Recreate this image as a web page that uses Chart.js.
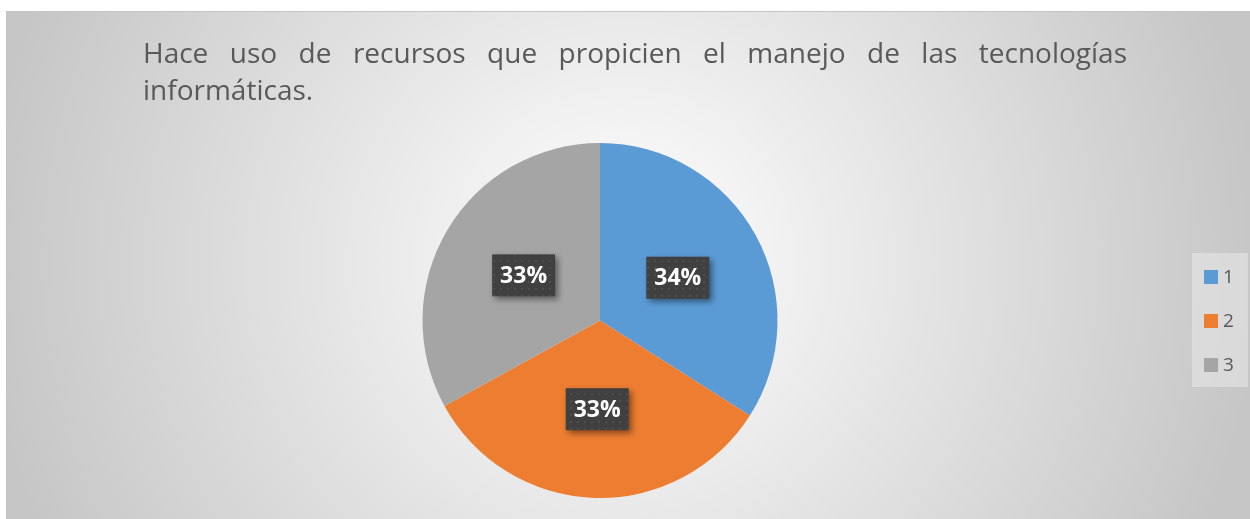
<!DOCTYPE html>
<html lang="es">
<head>
<meta charset="UTF-8">
<title>Hace uso de recursos</title>
<script src="https://cdn.jsdelivr.net/npm/chart.js"></script>
<style>
  body { margin: 0; background: #fff; }
  #frame { position: absolute; left: 6px; top: 11px; width: 1244px; height: 508px;
           border-top: 1px solid #c4c4c4; border-left: 1px solid #c4c4c4; box-sizing: border-box; }
  #chart { position: absolute; left: 0; top: 0; }
  #title { position: absolute; left: 136px; top: 22px; width: 984px;
           font-family: "Open Sans", sans-serif; font-size: 28px; line-height: 37px;
           color: #595959; text-align: justify; }
</style>
</head>
<body>
<div id="frame">
  <canvas id="chart" width="1243" height="507"></canvas>
  <div id="title">Hace uso de recursos que propicien el manejo de las tecnologías informáticas.</div>
</div>
<script>
// data
const categories = ['1', '2', '3'];
const shares = [34, 33, 33];
const colors = ['#5b9bd5', '#ed7d31', '#a5a5a5'];

// radial background like the spreadsheet chart area
const backdrop = {
  id: 'backdrop',
  beforeDraw(chart) {
    const { ctx, width, height } = chart;
    const g = ctx.createRadialGradient(615, 250, 0, 615, 250, 640);
    g.addColorStop(0, '#ffffff');
    g.addColorStop(1, '#c6c6c6');
    ctx.save();
    ctx.fillStyle = g;
    ctx.fillRect(0, 0, width, height);
    ctx.restore();
  }
};

// dotted pattern for label boxes
function dotPattern(ctx) {
  const c = document.createElement('canvas');
  c.width = 7; c.height = 7;
  const p = c.getContext('2d');
  p.fillStyle = '#404040';
  p.fillRect(0, 0, 7, 7);
  p.fillStyle = '#4e4e4e';
  p.fillRect(3, 3, 2, 2);
  return ctx.createPattern(c, 'repeat');
}

const sliceLabels = {
  id: 'sliceLabels',
  afterDatasetsDraw(chart) {
    const { ctx } = chart;
    const meta = chart.getDatasetMeta(0);
    const data = chart.data.datasets[0].data;
    const total = data.reduce((a, b) => a + b, 0);
    const pat = dotPattern(ctx);
    meta.data.forEach((arc, i) => {
      const p = arc.getProps(['x', 'y', 'startAngle', 'endAngle', 'outerRadius'], true);
      const mid = (p.startAngle + p.endAngle) / 2;
      const r = p.outerRadius * 0.5;
      const cx = p.x + Math.cos(mid) * r;
      const cy = p.y + Math.sin(mid) * r;
      const w = 63, h = 42;
      ctx.save();
      ctx.shadowColor = 'rgba(0,0,0,0.45)';
      ctx.shadowBlur = 6;
      ctx.shadowOffsetX = 3;
      ctx.shadowOffsetY = 3;
      ctx.fillStyle = pat;
      ctx.fillRect(cx - w / 2, cy - h / 2, w, h);
      ctx.restore();
      ctx.save();
      ctx.fillStyle = '#ffffff';
      ctx.font = 'bold 23px "Open Sans", sans-serif';
      ctx.textAlign = 'center';
      ctx.textBaseline = 'middle';
      ctx.fillText(Math.round(data[i] / total * 100) + '%', cx, cy + 1);
      ctx.restore();
    });
  }
};

const sideLegend = {
  id: 'sideLegend',
  afterDraw(chart) {
    const { ctx } = chart;
    const bx = 1185, by = 241, bw = 56, bh = 134;
    ctx.save();
    ctx.fillStyle = 'rgba(240,240,240,0.45)';
    ctx.fillRect(bx, by, bw, bh);
    const ds = chart.data.datasets[0];
    chart.data.labels.forEach((lab, i) => {
      const y = by + 24 + i * 44;
      ctx.fillStyle = ds.backgroundColor[i];
      ctx.fillRect(bx + 12, y - 7, 14, 14);
      ctx.fillStyle = '#595959';
      ctx.font = '19px "Open Sans", sans-serif';
      ctx.textBaseline = 'middle';
      ctx.fillText(lab, bx + 31, y + 1);
    });
    ctx.restore();
  }
};

new Chart(document.getElementById('chart'), {
  type: 'pie',
  data: {
    labels: categories,
    datasets: [{
      data: shares,
      backgroundColor: colors,
      borderWidth: 0,
      hoverOffset: 0
    }]
  },
  options: {
    responsive: false,
    animation: false,
    layout: { padding: { top: 131, bottom: 21, left: 200, right: 257 } },
    plugins: {
      legend: { display: false },
      tooltip: { enabled: false }
    }
  },
  plugins: [backdrop, sliceLabels, sideLegend]
});
</script>
</body>
</html>
